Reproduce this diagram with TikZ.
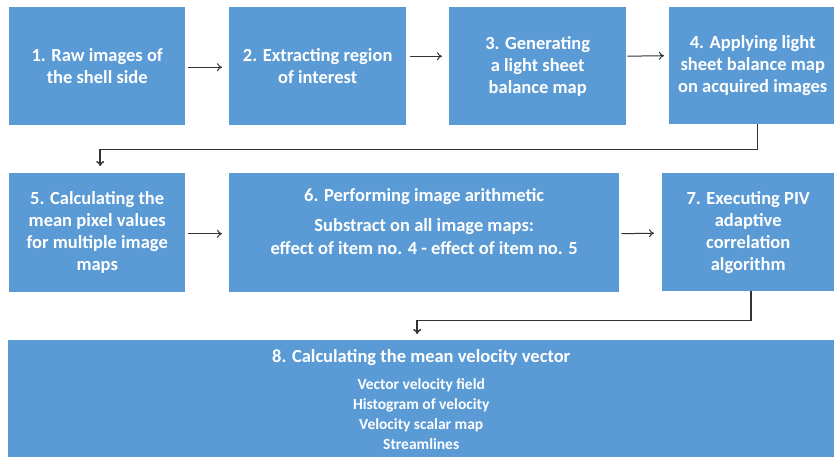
\documentclass[tikz,border=0pt]{standalone}
\usepackage{fontspec}
\setmainfont{Carlito}
\usetikzlibrary{arrows.meta}
\definecolor{boxblue}{HTML}{5B9BD5}
\definecolor{linegray}{HTML}{333333}
\tikzset{
  box/.style={fill=boxblue, draw=none, inner sep=0pt, anchor=north west,
    text=white, font=\fontsize{18.5}{22}\selectfont\bfseries, align=center},
  boxtext/.style={text=white, inner sep=0pt, align=center},
  arr/.style={draw=linegray, line width=1pt, -{To[length=5pt,width=8pt]}},
  elbow/.style={draw=linegray, line width=1.5pt, -{To[length=5pt,width=8pt]}},
}
\begin{document}
\begin{tikzpicture}[x=1pt,y=-1pt]
\useasboundingbox (0,0) rectangle (834,457);
% row 1
\node[box, minimum width=176, minimum height=118] (b1) at (9,7) {1. Raw images of\\the shell side};
\node[box, minimum width=177, minimum height=118] (b2) at (229,7) {2. Extracting region\\of interest};
\node[box, minimum width=177, minimum height=118] (b3) at (449,7) {3. Generating\\a light sheet\\balance map};
\node[box, minimum width=167, minimum height=117] (b4) at (669,7) {4. Applying light\\sheet balance map\\on acquired images};
% row 2
\node[box, minimum width=176, minimum height=119] (b5) at (9,173) {5. Calculating the\\mean pixel values\\for multiple image\\maps};
\node[box, minimum width=390, minimum height=119] (b6) at (229,173) {};
\node[boxtext, font=\fontsize{18.5}{22.5}\selectfont\bfseries, anchor=north] (t6) at ([yshift=-15pt]b6.north)
  {6. Performing image arithmetic\\[8pt]Substract on all image maps:\\effect of item no. 4 - effect of item no. 5};
\node[box, minimum width=172, minimum height=118] (b7) at (662,173) {7. Executing PIV\\adaptive\\correlation\\algorithm};
% row 3
\node[box, minimum width=826, minimum height=120] (b8) at (8,340) {};
\node[boxtext, anchor=base, font=\fontsize{18.5}{22}\selectfont\bfseries] (t8) at ([yshift=-22pt]b8.north)
  {8. Calculating the mean velocity vector};
\node[boxtext, anchor=north, font=\fontsize{15.5}{20}\selectfont\bfseries] (t8b) at ([yshift=-38pt]b8.north)
  {Vector velocity field\\Histogram of velocity\\Velocity scalar map\\Streamlines};
% arrows
\draw[arr] ([xshift=3pt,yshift=-1pt]b1.east) -- ([xshift=-7pt,yshift=-1pt]b2.west);
\draw[arr] ([xshift=4pt,yshift=10pt]b2.east) -- ([xshift=-7pt,yshift=10pt]b3.west);
\draw[arr] ([xshift=1pt,yshift=10pt]b3.east) -- ([xshift=-5pt,yshift=10pt]b4.west);
\draw[arr] ([xshift=3pt,yshift=-1pt]b5.east) -- ([xshift=-7pt,yshift=-1pt]b6.west);
\draw[arr] ([xshift=2pt,yshift=-1pt]b6.east) -- ([xshift=-8pt,yshift=-1pt]b7.west);
% elbows
\coordinate (e1) at ([xshift=5pt]b4.south);
\coordinate (e1b) at ([xshift=3pt]b5.north);
\draw[elbow] (e1) -- ++(0,25) -| ([yshift=7pt]e1b);
\coordinate (e2) at ([xshift=3pt]b7.south);
\coordinate (e2b) at ([yshift=6pt]b8.north);
\draw[elbow] (e2) -- ++(0,29) -| ([xshift=-4pt]e2b);
\end{tikzpicture}
\end{document}
